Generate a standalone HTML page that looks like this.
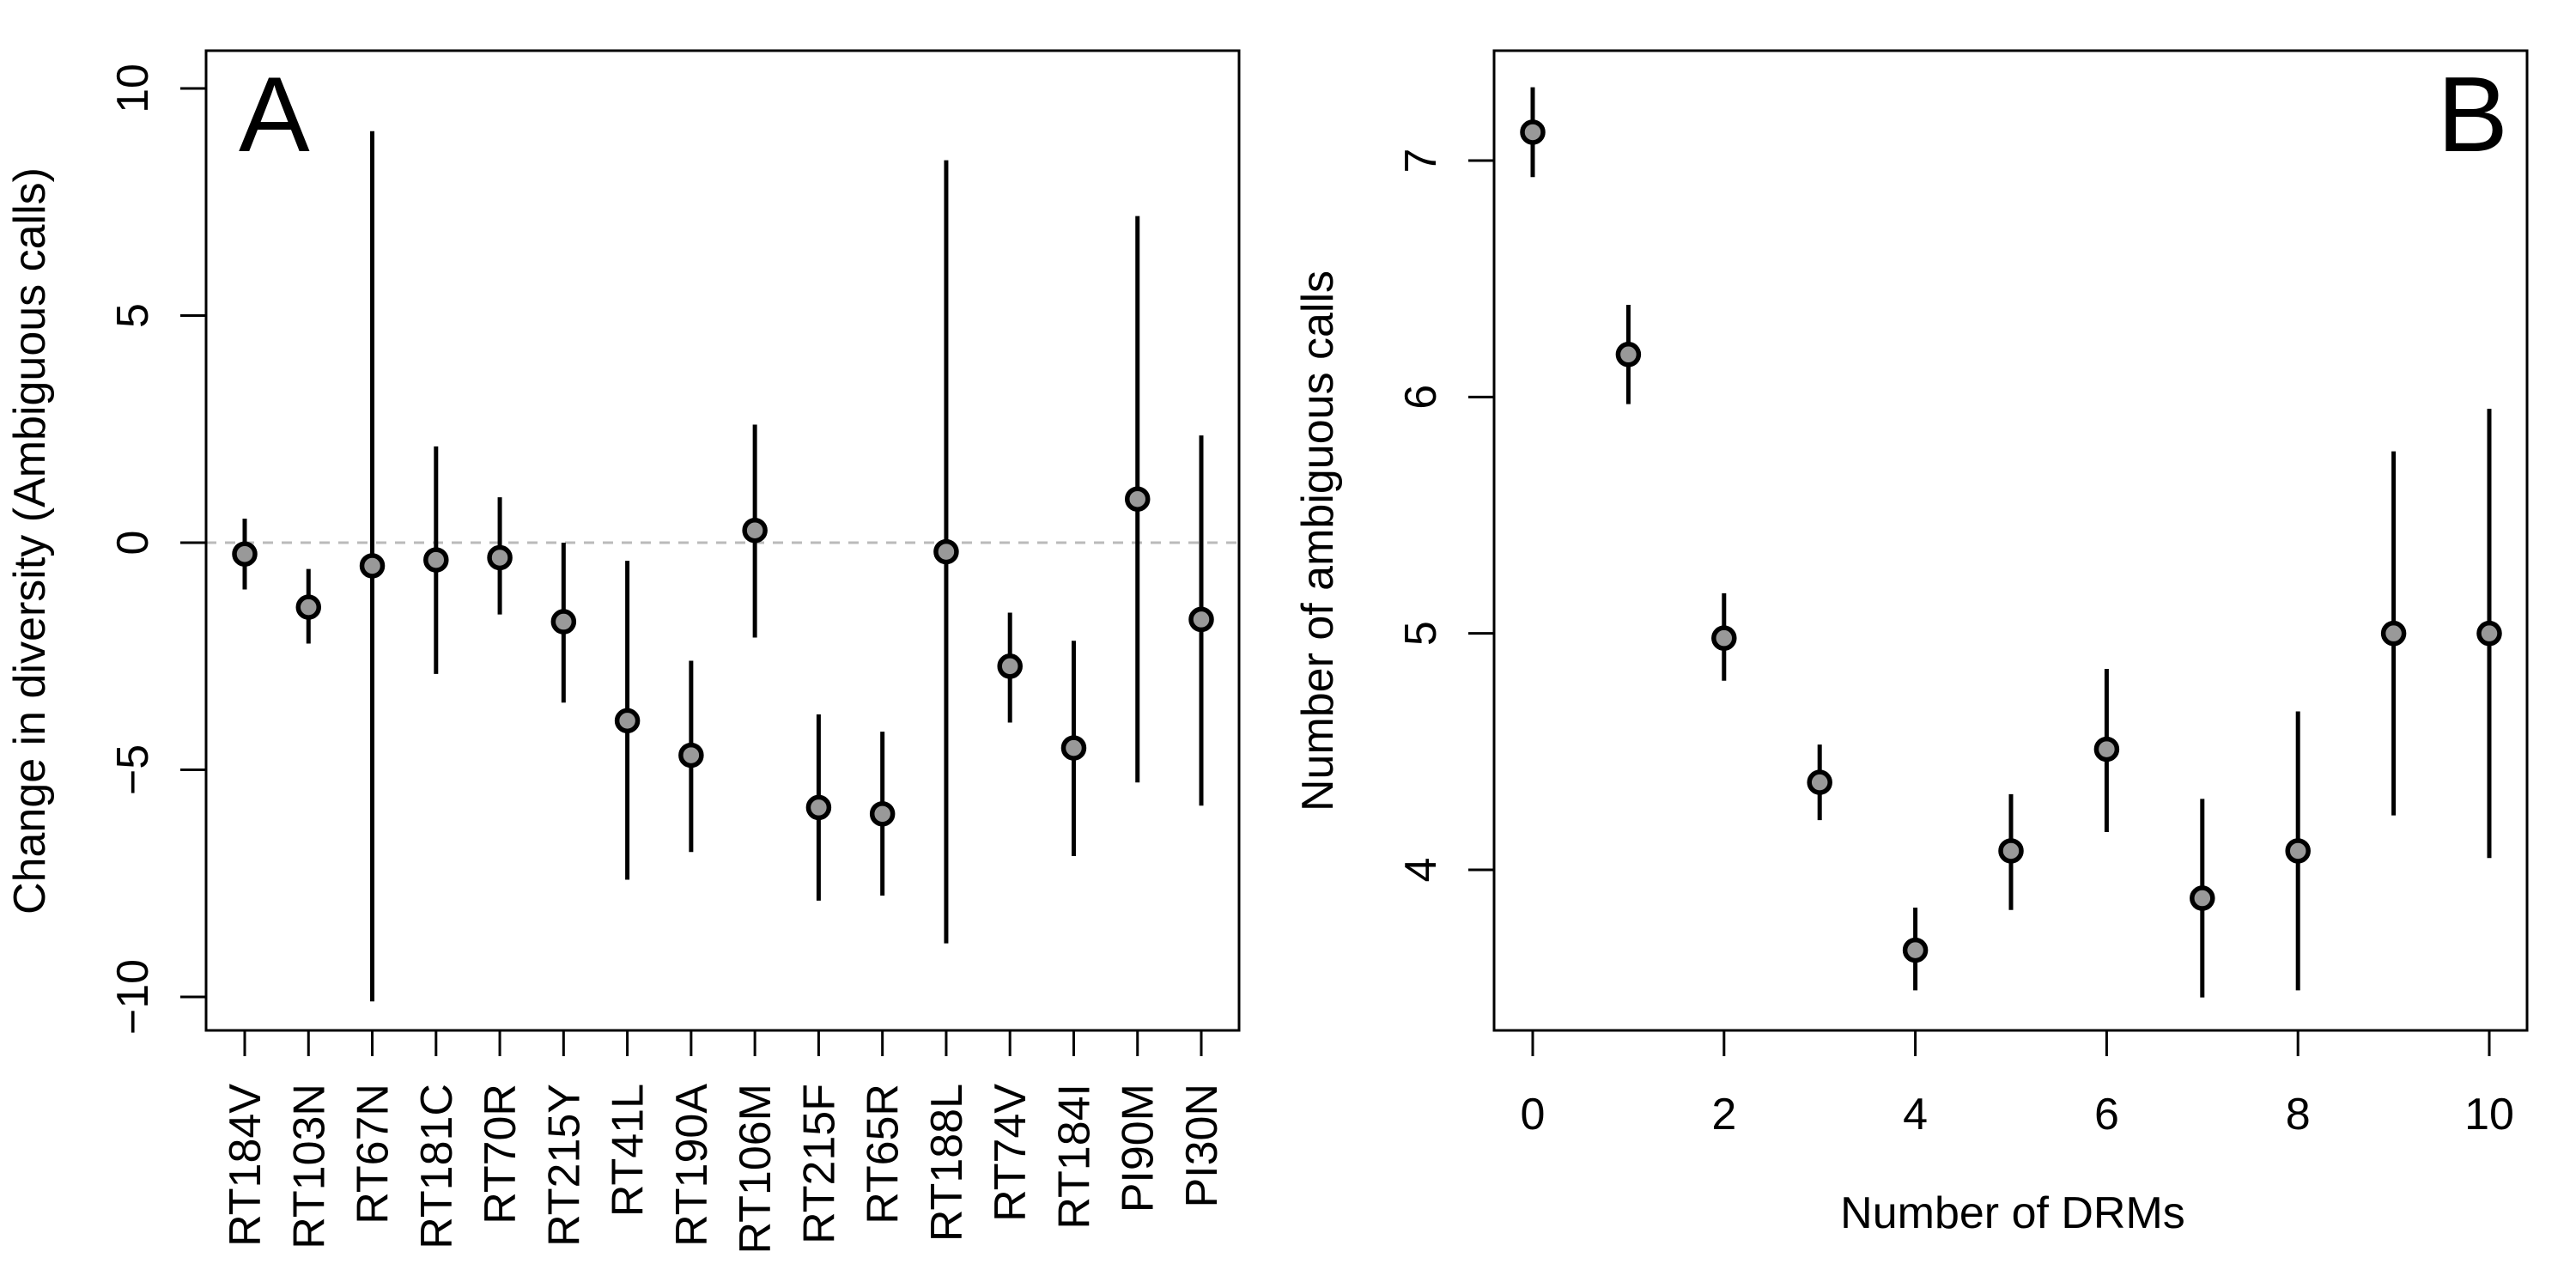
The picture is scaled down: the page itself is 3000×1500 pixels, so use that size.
<!DOCTYPE html>
<html><head><meta charset="utf-8"><style>
html,body{margin:0;padding:0;background:#fff}
svg{display:block;font-family:"Liberation Sans",Arial,sans-serif}
</style></head><body>
<svg id="chart" width="3000" height="1500" viewBox="0 0 3000 1500">
<g id="pa"></g>
<g id="pb"></g>
</svg>
<script>
const catsA = ["RT184V","RT103N","RT67N","RT181C","RT70R","RT215Y","RT41L","RT190A","RT106M","RT215F","RT65R","RT188L","RT74V","RT184I","PI90M","PI30N"];
const valA = [-0.25,-1.42,-0.51,-0.38,-0.33,-1.74,-3.92,-4.68,0.27,-5.83,-5.97,-0.2,-2.72,-4.52,0.96,-1.69];
const loA = [-1.03,-2.22,-10.1,-2.89,-1.58,-3.52,-7.42,-6.81,-2.09,-7.88,-7.77,-8.82,-3.96,-6.9,-5.28,-5.79];
const hiA = [0.53,-0.58,9.06,2.12,1.0,0,-0.4,-2.6,2.6,-3.78,-4.16,8.42,-1.54,-2.16,7.19,2.36];
const ticksA = [-10,-5,0,5,10];
const xB = [0,1,2,3,4,5,6,7,8,9,10];
const valB = [7.12,6.18,4.98,4.37,3.66,4.08,4.51,3.88,4.08,5.0,5.0];
const loB = [6.93,5.97,4.8,4.21,3.49,3.83,4.16,3.46,3.49,4.23,4.05];
const hiB = [7.31,6.39,5.17,4.53,3.84,4.32,4.85,4.3,4.67,5.77,5.95];
const ticksBy = [4,5,6,7];
const ticksBx = [0,2,4,6,8,10];

const NS="http://www.w3.org/2000/svg";
const FS=52;
function mk(parent,tag,attrs,text){const e=document.createElementNS(NS,tag);for(const k in attrs)e.setAttribute(k,attrs[k]);if(text!==undefined)e.textContent=text;parent.appendChild(e);return e;}

// Panel A
const A=document.getElementById('pa');
const ayA=v=>103+(10-v)*(1161-103)/20;
const axA=i=>285+i*(1399-285)/15;
let e;
e=mk(A,'line',{x1:240,x2:1443,y1:ayA(0),y2:ayA(0),stroke:'#bbb','stroke-width':3,'stroke-dasharray':'12,10'});


catsA.forEach((c,i)=>{
  const x=axA(i);
  let l=mk(A,'line',{x1:x,x2:x,y1:ayA(loA[i]),y2:ayA(hiA[i]),stroke:'#000','stroke-width':5});
  
  
  let p=mk(A,'circle',{cx:x,cy:ayA(valA[i]),r:12,fill:'#999',stroke:'#000','stroke-width':5.5});
  
  
  let t=mk(A,'line',{x1:x,x2:x,y1:1200,y2:1230,stroke:'#000','stroke-width':3});
  
  
  let lb=mk(A,'text',{x:0,y:0,'font-size':FS,'text-anchor':'end',transform:`translate(${x+18},1262) rotate(-90)`},c);
  
  
});
ticksA.forEach(v=>{
  let t=mk(A,'line',{x1:210,x2:240,y1:ayA(v),y2:ayA(v),stroke:'#000','stroke-width':3});
  
  
  let lb=mk(A,'text',{x:0,y:0,'font-size':FS,'text-anchor':'middle',transform:`translate(172,${ayA(v)}) rotate(-90)`},String(v).replace('-','\u2212'));
  
  
});
e=mk(A,'rect',{x:240,y:59,width:1203,height:1141,fill:'none',stroke:'#000','stroke-width':3});


e=mk(A,'text',{x:0,y:0,'font-size':FS,'text-anchor':'middle',transform:'translate(52,630) rotate(-90)'},'Change in diversity (Ambiguous calls)');


e=mk(A,'text',{x:278,y:176,'font-size':124},'A');



// Panel B
const B=document.getElementById('pb');
const ayB=v=>187+(7-v)*(1013-187)/3;
const axB=v=>1785+v*(2899-1785)/10;
xB.forEach((xv,i)=>{
  const x=axB(xv);
  let l=mk(B,'line',{x1:x,x2:x,y1:ayB(loB[i]),y2:ayB(hiB[i]),stroke:'#000','stroke-width':5});
  
  
  let p=mk(B,'circle',{cx:x,cy:ayB(valB[i]),r:12,fill:'#999',stroke:'#000','stroke-width':5.5});
  
  
});
ticksBx.forEach(v=>{
  const x=axB(v);
  let t=mk(B,'line',{x1:x,x2:x,y1:1200,y2:1230,stroke:'#000','stroke-width':3});
  
  
  let lb=mk(B,'text',{x:x,y:1315,'font-size':FS,'text-anchor':'middle'},String(v));
  
  
});
ticksBy.forEach(v=>{
  let t=mk(B,'line',{x1:1710,x2:1740,y1:ayB(v),y2:ayB(v),stroke:'#000','stroke-width':3});
  
  
  let lb=mk(B,'text',{x:0,y:0,'font-size':FS,'text-anchor':'middle',transform:`translate(1672,${ayB(v)}) rotate(-90)`},String(v));
  
  
});
e=mk(B,'rect',{x:1740,y:59,width:1203,height:1141,fill:'none',stroke:'#000','stroke-width':3});


e=mk(B,'text',{x:0,y:0,'font-size':FS,'text-anchor':'middle',transform:'translate(1552,630) rotate(-90)'},'Number of ambiguous calls');


e=mk(B,'text',{x:2344,y:1430,'font-size':FS,'text-anchor':'middle'},'Number of DRMs');


e=mk(B,'text',{x:2921,y:176,'font-size':124,'text-anchor':'end'},'B');


</script>
</body></html>
